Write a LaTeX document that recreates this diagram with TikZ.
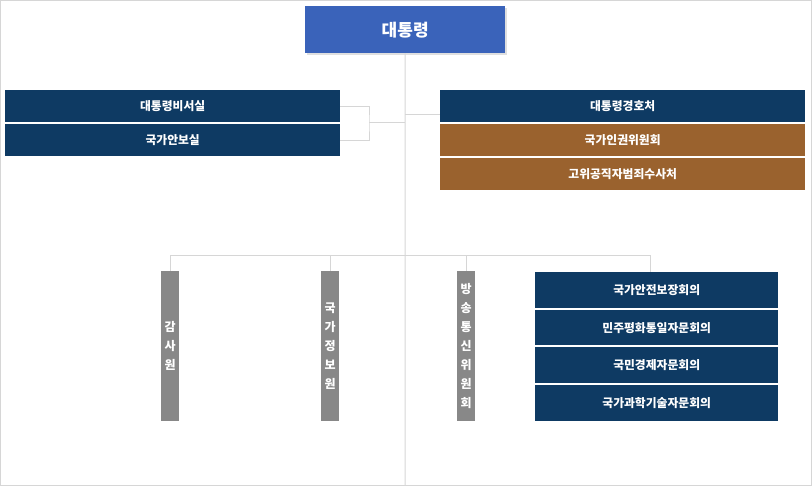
\documentclass[tikz,border=0pt]{standalone}
\usepackage{fontspec}
\setmainfont{Noto Sans CJK KR}
\usetikzlibrary{shadows}
\definecolor{navy}{HTML}{0E3A63}
\definecolor{topblue}{HTML}{3A63BA}
\definecolor{brownbox}{HTML}{9A622E}
\definecolor{grayv}{HTML}{888888}
\definecolor{linegray}{HTML}{D6D6D6}
\begin{document}
\begin{tikzpicture}[x=1pt,y=-1pt,
  hbox/.style={draw=none,text=white,font=\fontsize{11.8}{13}\selectfont\bfseries,anchor=north west,inner sep=0pt,align=center},
  vbox/.style={fill=grayv,text=white,font=\fontsize{12}{19}\selectfont\bfseries,anchor=north west,minimum width=18pt,minimum height=150pt,inner sep=0pt,align=center,text width=18pt},
  conn/.style={draw=linegray,line width=1pt}]
\useasboundingbox (0,0) rectangle (812,486);
\draw[linegray,line width=1.2pt] (0.6,0.6) rectangle (811.4,485.4);
\coordinate (cb) at (405,485);
\coordinate (cm) at (405,123);
\coordinate (cr) at (405,115);
\coordinate (ch) at (405,256);
\coordinate (lj) at (369,123);
\node[fill=topblue,text=white,font=\fontsize{17}{20}\selectfont\bfseries,minimum width=200pt,minimum height=47pt,inner sep=0pt,anchor=north west,drop shadow={shadow xshift=1.5pt,shadow yshift=-1.5pt,opacity=0.25}] (top) at (305,6) {대통령};
\draw[conn] (top.south) -- (cb);
% left
\node[hbox,fill=navy,minimum width=335pt,minimum height=32pt] (bis) at (5,90) {대통령비서실};
\node[hbox,fill=navy,minimum width=335pt,minimum height=32pt] (anb) at (5,124) {국가안보실};
\draw[conn] (bis.east) -| (lj) |- (anb.east);
\draw[conn] (lj) -- (cm);
% right
\node[hbox,fill=navy,minimum width=365pt,minimum height=32pt] (gyo) at (440,90) {대통령경호처};
\node[hbox,fill=brownbox,minimum width=365pt,minimum height=32pt] (ink) at (440,124) {국가인권위원회};
\node[hbox,fill=brownbox,minimum width=365pt,minimum height=32pt] (gong) at (440,158) {고위공직자범죄수사처};
\draw[conn] (cr) -- (gyo.west |- cr);
% bottom
\node[vbox] (gam) at (161,271) {감\\사\\원};
\node[vbox] (nis) at (321,271) {국\\가\\정\\보\\원};
\node[vbox] (kcc) at (457,271) {방\\송\\통\\신\\위\\원\\회};
\node[hbox,fill=navy,minimum width=243pt,minimum height=36pt] (r1) at (535,272) {국가안전보장회의};
\node[hbox,fill=navy,minimum width=243pt,minimum height=35pt] (r2) at (535,310) {민주평화통일자문회의};
\node[hbox,fill=navy,minimum width=243pt,minimum height=36pt] (r3) at (535,347) {국민경제자문회의};
\node[hbox,fill=navy,minimum width=243pt,minimum height=36pt] (r4) at (535,385) {국가과학기술자문회의};
\coordinate (hr) at (650,256);
\draw[conn] (gam.north) |- (hr) -- (hr |- r1.north);
\draw[conn] (nis.north) -- (nis.north |- hr);
\draw[conn] (kcc.north) -- (kcc.north |- hr);
\end{tikzpicture}
\end{document}
